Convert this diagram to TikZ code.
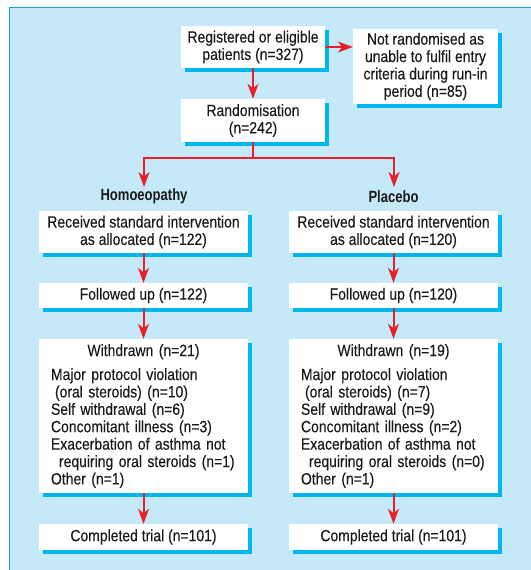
\documentclass[tikz,border=0pt]{standalone}
\usepackage{fontspec}
\setmainfont{Liberation Sans}[FakeStretch=0.856,FakeBold=0.25,BoldFeatures={FakeStretch=0.80,FakeBold=0}]
\usetikzlibrary{shadows,arrows.meta}
\definecolor{panelc}{HTML}{C6E9F9}
\definecolor{borderc}{HTML}{1FA3E0}
\definecolor{shadowc}{HTML}{00B6EE}
\definecolor{arrowc}{HTML}{E8202A}
\definecolor{textc}{HTML}{1A1A1A}
\tikzset{
  box/.style={fill=white, inner sep=0pt, text=textc, align=center,
    font=\fontsize{16.3}{17.4}\selectfont,
    drop shadow={shadow xshift=3.5pt, shadow yshift=-3.5pt, fill=shadowc, opacity=1}},
  wide/.style={minimum width=209pt},
  narrow/.style={minimum width=144pt},
  label/.style={inner sep=0pt, text=textc, font=\bfseries\fontsize{16.3}{17.4}\selectfont},
  conn/.style={draw=arrowc, line width=2pt, -{Stealth[length=15pt,width=11pt,inset=4.5pt]}},
  plainconn/.style={draw=arrowc, line width=2pt}
}
\begin{document}
\begin{tikzpicture}[x=1pt,y=-1pt]
\useasboundingbox (0,0) rectangle (530,570);
\fill[panelc] (9.5,7.5) rectangle (532,572);
\draw[borderc, line width=1.3pt] (9.5,572) -- (9.5,7.5) -- (532,7.5);

\node[box, narrow, minimum height=42pt] (reg) at (253,47) {Registered or eligible\\patients (n=327)};
\node[box, minimum width=145pt, minimum height=75pt] (notr) at (425.5,66.5) {Not randomised as\\unable to fulfil entry\\criteria during run-in\\period (n=85)};
\node[box, narrow, minimum height=43pt] (rand) at (253,120.5) {Randomisation\\(n=242)};

\node[label] (homL) at (144,196.5) {Homoeopathy};
\node[label] (plaL) at (393.5,196.5) {Placebo};

\node[box, wide, minimum height=42pt] (recL) at (143.5,232) {Received standard intervention\\as allocated (n=122)};
\node[box, wide, minimum height=42pt] (recR) at (393.5,232) {Received standard intervention\\as allocated (n=120)};

\node[box, wide, minimum height=25pt] (folL) at (143.5,295.5) {Followed up (n=122)};
\node[box, wide, minimum height=25pt] (folR) at (393.5,295.5) {Followed up (n=120)};

\node[box, wide, minimum height=154pt, text width=185pt, align=left] (witL) at (143.5,416) {%
{\centering Withdrawn (n=21)\par}\vspace{6.6pt}%
Major protocol violation\par
\hspace*{4pt}(oral steroids) (n=10)\par
Self withdrawal (n=6)\par
Concomitant illness (n=3)\par
Exacerbation of asthma not\par
\hspace*{8pt}requiring oral steroids (n=1)\par
Other (n=1)};
\node[box, wide, minimum height=154pt, text width=185pt, align=left] (witR) at (393.5,416) {%
{\centering Withdrawn (n=19)\par}\vspace{6.6pt}%
Major protocol violation\par
\hspace*{4pt}(oral steroids) (n=7)\par
Self withdrawal (n=9)\par
Concomitant illness (n=2)\par
Exacerbation of asthma not\par
\hspace*{8pt}requiring oral steroids (n=0)\par
Other (n=1)};

\node[box, wide, minimum height=26pt] (comL) at (143.5,537) {Completed trial (n=101)};
\node[box, wide, minimum height=26pt] (comR) at (393.5,537) {Completed trial (n=101)};

\coordinate (split) at (253,157.5);
\coordinate (splitL) at (144,157.5);
\coordinate (splitR) at (394,157.5);
\coordinate (tipL) at (144,187);
\coordinate (tipR) at (394,187);

\draw[conn] (reg.east) -- (notr.west |- reg.east);
\draw[conn] (reg.south) -- (rand.north);
\draw[plainconn] (rand.south) -- (split);
\draw[plainconn, line cap=rect] (splitL) -- (splitR);
\draw[conn] (splitL) -- (tipL);
\draw[conn] (splitR) -- (tipR);

\draw[conn] (recL.south) -- (folL.north);
\draw[conn] (recR.south) -- (folR.north);
\draw[conn] (folL.south) -- (witL.north);
\draw[conn] (folR.south) -- (witR.north);
\draw[conn] (witL.south) -- (comL.north);
\draw[conn] (witR.south) -- (comR.north);
\end{tikzpicture}
\end{document}
